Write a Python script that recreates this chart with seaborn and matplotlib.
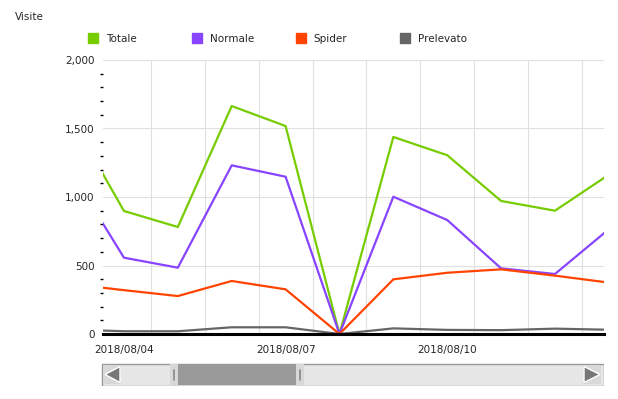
import matplotlib
matplotlib.use("Agg")
import matplotlib.pyplot as plt
import matplotlib.ticker as mticker
import pandas as pd
import seaborn as sns
from matplotlib.lines import Line2D
from matplotlib.patches import Polygon, Rectangle

# daily values (08/03 and 08/13 sit just outside the visible window)
dates = pd.date_range("2018-08-03", "2018-08-13", freq="D")
totale = [1590, 898, 781, 1664, 1518, 0, 1438, 1305, 971, 900, 1163]
normale = [1195, 557, 484, 1231, 1148, 0, 1002, 832, 479, 438, 765]
spider = [365, 320, 277, 387, 326, 0, 399, 447, 472, 426, 375]
prelevato = [33, 20, 20, 49, 49, 0, 41, 30, 28, 39, 31]

series_names = ["Totale", "Normale", "Spider", "Prelevato"]
colors = ["#77cc00", "#8844ff", "#ff4400", "#666666"]
window = (pd.Timestamp("2018-08-03 14:40"), pd.Timestamp("2018-08-12 21:50"))
label_dates = ["2018-08-04", "2018-08-07", "2018-08-10"]

df = pd.DataFrame({"date": dates, "Totale": totale, "Normale": normale,
                   "Spider": spider, "Prelevato": prelevato})
long = df.melt(id_vars="date", var_name="serie", value_name="visite")

sns.set_style("white")
plt.rcParams["font.family"] = ["DejaVu Sans"]

fig = plt.figure(figsize=(6.18, 3.99), dpi=100)
ax = fig.add_axes([103 / 618, 65 / 399, 501 / 618, 274 / 399])

sns.lineplot(data=long, x="date", y="visite", hue="serie", hue_order=series_names,
             palette=colors, linewidth=1.6, legend=False, ax=ax)

ax.set_xlabel("")
ax.set_ylabel("")

# y axis: majors every 500, minors every 100
ax.set_ylim(0, 2000)
ax.yaxis.set_major_locator(mticker.MultipleLocator(500))
ax.yaxis.set_minor_locator(mticker.MultipleLocator(100))
ax.yaxis.set_major_formatter(mticker.FuncFormatter(lambda v, p: f"{int(v):,}"))
ax.tick_params(axis="y", which="major", length=4, width=2, color="black",
               labelsize=7.5, pad=2)
ax.tick_params(axis="y", which="minor", length=2, width=1, color="black", left=True)
ax.grid(axis="y", which="major", color="#e0e0e0", linewidth=0.8)

# x axis: daily ticks, labels every 3 days, gridlines at noon
day_ticks = pd.date_range("2018-08-04", "2018-08-12", freq="D")
ax.set_xticks(day_ticks)
ax.set_xticklabels([d.strftime("%Y/%m/%d") if d.strftime("%Y-%m-%d") in label_dates else ""
                    for d in day_ticks])
ax.tick_params(axis="x", which="major", length=4, width=1, color="#555555",
               labelsize=7.5, pad=4)
for tick, d in zip(ax.xaxis.get_major_ticks(), day_ticks):
    if d.strftime("%Y-%m-%d") in label_dates:
        tick.tick1line.set_markeredgewidth(2)
        tick.tick1line.set_color("black")
noon = pd.date_range("2018-08-04 12:00", "2018-08-12 12:00", freq="D")
ax.set_xticks(noon, minor=True)
ax.tick_params(axis="x", which="minor", length=0)
ax.grid(axis="x", which="minor", color="#e0e0e0", linewidth=0.8)
ax.grid(axis="x", which="major", visible=False)
ax.set_xlim(window)

for side in ["top", "right", "left"]:
    ax.spines[side].set_visible(False)
ax.spines["bottom"].set_linewidth(2.2)
ax.spines["bottom"].set_color("black")

fig.text(15 / 618, 1 - 17 / 399, "Visite", fontsize=7.5, va="center", ha="left")

# legend, evenly spaced entries
for i, (name, col) in enumerate(zip(series_names, colors)):
    h = Line2D([], [], marker="s", color=col, linestyle="none", markersize=7)
    fig.legend(handles=[h], labels=[name], loc="center left",
               bbox_to_anchor=((88 + 104 * i) / 618, 1 - 39 / 399),
               frameon=False, fontsize=7.5, handletextpad=0.7,
               handlelength=1.0, borderpad=0, borderaxespad=0)

# scrollbar widget under the chart
sb = fig.add_axes([101 / 618, 1 - 386 / 399, 503 / 618, 23 / 399])
sb.set_xlim(0, 503)
sb.set_ylim(0, 23)
sb.axis("off")
sb.add_patch(Rectangle((0.5, 0.5), 502, 22, facecolor="#e6e6e6", edgecolor="#999999", lw=1))
sb.add_patch(Rectangle((69, 1), 8, 21, facecolor="#d8d8d8", edgecolor="none"))
sb.add_patch(Rectangle((77, 1), 118, 21, facecolor="#999999", edgecolor="none"))
sb.add_patch(Rectangle((195, 1), 8, 21, facecolor="#d8d8d8", edgecolor="none"))
sb.plot([73, 73], [6, 16], color="#888888", lw=1.2)
sb.plot([199, 199], [6, 16], color="#888888", lw=1.2)
sb.add_patch(Rectangle((2, 2), 18, 19, facecolor="#d8d8d8", edgecolor="none"))
sb.add_patch(Polygon([[19, 3.5], [19, 19.5], [4, 11.5]], closed=True, facecolor="#777777"))
sb.add_patch(Rectangle((482, 2), 18, 19, facecolor="#d8d8d8", edgecolor="none"))
sb.add_patch(Polygon([[483, 3.5], [483, 19.5], [499, 11.5]], closed=True, facecolor="#777777"))

fig.savefig("out.png", dpi=100)
